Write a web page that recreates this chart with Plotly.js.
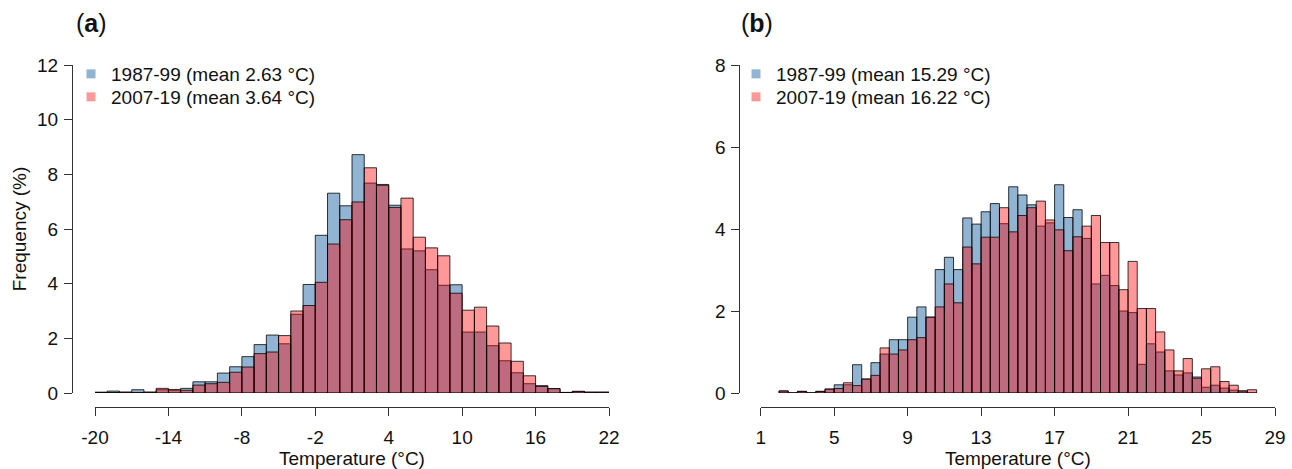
<!DOCTYPE html>
<html><head><meta charset="utf-8">
<script src="https://cdn.plot.ly/plotly-3.0.1.min.js"></script>
<style>html,body{margin:0;padding:0;background:#fff}</style>
</head><body><div id="chart" style="width:1292px;height:469px"></div>
<script>
// Panel (a): daily mean temperature, 1 °C bins (bin start values)
const binStartA = [-20,-19,-18,-17,-16,-15,-14,-13,-12,-11,-10,-9,-8,-7,-6,-5,-4,-3,-2,-1,0,1,2,3,4,5,6,7,8,9,10,11,12,13,14,15,16,17,18,19,20,21];
const freqA_1987_99 = [0.03,0.07,0.03,0.12,0.03,0.12,0.10,0.17,0.41,0.41,0.73,0.96,1.33,1.77,2.12,1.80,2.88,3.97,5.77,7.31,6.85,8.72,7.68,7.63,6.87,5.27,5.20,4.51,3.94,3.96,2.23,2.23,1.73,1.18,0.74,0.34,0.27,0.16,0.02,0.06,0.03,0.03];
const freqA_2007_19 = [0.02,0.02,0.03,0.02,0.03,0.17,0.13,0.10,0.29,0.34,0.39,0.76,0.95,1.44,1.50,2.10,3.00,3.20,4.05,5.45,6.34,6.99,8.24,7.60,6.79,7.13,5.70,5.31,5.02,3.65,3.03,3.14,2.45,1.83,1.16,0.63,0.24,0.16,0.02,0.06,0.03,0.03];
const binWidthA = 1;

// Panel (b): 0.5 °C bins (bin start values)
const binStartB = [2,2.5,3,3.5,4,4.5,5,5.5,6,6.5,7,7.5,8,8.5,9,9.5,10,10.5,11,11.5,12,12.5,13,13.5,14,14.5,15,15.5,16,16.5,17,17.5,18,18.5,19,19.5,20,20.5,21,21.5,22,22.5,23,23.5,24,24.5,25,25.5,26,26.5,27,27.5];
const freqB_1987_99 = [0.05,0,0.04,0,0.04,0.09,0.20,0.20,0.69,0.34,0.74,0.95,1.30,1.30,1.85,2.10,1.85,3.01,3.31,3.01,4.27,4.12,4.42,4.62,4.13,5.03,4.83,4.59,4.07,4.15,5.08,4.28,4.47,3.77,2.66,2.87,2.62,2.00,1.96,0.70,1.20,1.00,0.54,0.44,0.49,0.39,0.14,0.19,0.12,0.07,0.05,0.00];
const freqB_2007_19 = [0.05,0,0.04,0,0.04,0.10,0.11,0.25,0.18,0.34,0.43,1.10,0.95,1.05,1.30,1.35,1.85,2.10,2.66,2.20,3.56,3.15,3.80,3.80,4.52,3.93,4.33,4.52,4.68,4.22,3.98,3.47,3.81,4.07,4.33,3.67,3.67,2.52,3.21,2.06,2.06,1.49,1.05,0.54,0.84,0.36,0.59,0.64,0.28,0.19,0.05,0.08];
const binWidthB = 0.5;

const ticksA = [-20,-14,-8,-2,4,10,16,22];
const ticksB = [1,5,9,13,17,21,25,29];
const yTicksA = [0,2,4,6,8,10,12];
const yTicksB = [0,2,4,6,8];
const legendA = ['1987-99 (mean 2.63 °C)','2007-19 (mean 3.64 °C)'];
const legendB = ['1987-99 (mean 15.29 °C)','2007-19 (mean 16.22 °C)'];
const panelLabels = ['(<b>a</b>)','(<b>b</b>)'];

const FONT = 'Liberation Sans, Arial, Helvetica, sans-serif';
const BLUE = 'rgba(70,130,180,0.6)';
const RED = 'rgba(255,0,0,0.4)';
const EDGE = 'rgba(0,0,0,0.78)';
const AXC = '#333';
const W = 1292, H = 469;
const px = v => v / W, py = v => 1 - v / H;

function bars(x, y, w, color, xa, ya) {
  return {type:'bar', x:x, y:y, width:w, offset:0, xaxis:xa, yaxis:ya,
    marker:{color:color, line:{color:EDGE, width:1}}, showlegend:false, hoverinfo:'x+y'};
}
function legendItem(name, color, xa, ya, lg) {
  return {type:'scatter', mode:'markers', x:[null], y:[null], xaxis:xa, yaxis:ya, name:name,
    legend:lg, marker:{symbol:'square', size:9, color:color, line:{width:0}}, showlegend:true};
}

const data = [
  bars(binStartA, freqA_1987_99, binWidthA, BLUE, 'x', 'y'),
  bars(binStartA, freqA_2007_19, binWidthA, RED, 'x', 'y'),
  bars(binStartB, freqB_1987_99, binWidthB, BLUE, 'x2', 'y2'),
  bars(binStartB, freqB_2007_19, binWidthB, RED, 'x2', 'y2'),
  legendItem(legendA[0], BLUE, 'x', 'y', 'legend'),
  legendItem(legendA[1], RED, 'x', 'y', 'legend2'),
  legendItem(legendB[0], BLUE, 'x2', 'y2', 'legend3'),
  legendItem(legendB[1], RED, 'x2', 'y2', 'legend4')
];

const tickFont = {family:FONT, size:19, color:'#111'};
const titleFont = {family:FONT, size:19, color:'#111'};
function xax(domain, range, tv) {
  return {domain:domain, range:range, tickvals:tv, ticktext:tv.map(String), ticks:'outside', ticklen:8,
    tickcolor:AXC, tickwidth:1, showline:true, linecolor:AXC, linewidth:1, showgrid:false, zeroline:false,
    anchor:'free', position:py(407), tickfont:tickFont, fixedrange:true, ticklabelstandoff:5,
    title:{text:'Temperature (°C)', font:titleFont, standoff:4}};
}
function yax(domain, range, tv, pos, title) {
  return {domain:domain, range:range, tickvals:tv, ticktext:tv.map(String), ticks:'outside', ticklen:8,
    tickcolor:AXC, tickwidth:1, showline:true, linecolor:AXC, linewidth:1, showgrid:false, zeroline:false,
    anchor:'free', position:pos, tickfont:tickFont, fixedrange:true, ticklabelstandoff:2,
    title:{text:title, font:titleFont, standoff:4}};
}
const ydom = [py(393), py(65)];
const legStyle = (x, top) => ({x:x, y:py(top), xanchor:'left', yanchor:'top', bgcolor:'rgba(0,0,0,0)',
  font:{family:FONT, size:19, color:'#111'}, itemwidth:30, tracegroupgap:0});

const layout = {
  width:W, height:H, margin:{l:0,r:0,t:0,b:0}, paper_bgcolor:'#fff', plot_bgcolor:'#fff',
  barmode:'overlay', bargap:0,
  font:{family:FONT, color:'#111'},
  xaxis: xax([px(95), px(609)], [-20, 22], ticksA),
  yaxis: yax(ydom, [0, 12], yTicksA, px(72), 'Frequency (%)'),
  xaxis2: xax([px(760.7), px(1275)], [1, 29], ticksB),
  yaxis2: yax(ydom, [0, 8], yTicksB, px(739.3), ''),
  legend: legStyle(px(71), 55),
  legend2: legStyle(px(71), 78),
  legend3: legStyle(px(736), 55),
  legend4: legStyle(px(736), 78),
  annotations: [
    {text:panelLabels[0], xref:'paper', yref:'paper', x:px(74), y:py(23), xanchor:'left', yanchor:'middle', showarrow:false, font:{family:FONT, size:25, color:'#111'}},
    {text:panelLabels[1], xref:'paper', yref:'paper', x:px(739), y:py(23), xanchor:'left', yanchor:'middle', showarrow:false, font:{family:FONT, size:25, color:'#111'}}
  ]
};
Plotly.newPlot('chart', data, layout, {displayModeBar:false, staticPlot:true});
</script></body></html>
